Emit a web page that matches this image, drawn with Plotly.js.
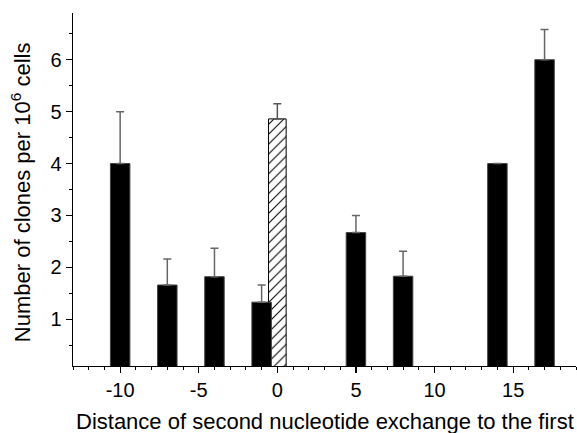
<!DOCTYPE html>
<html>
<head>
<meta charset="utf-8">
<script src="https://cdn.plot.ly/plotly-3.0.1.min.js"></script>
<style>html,body{margin:0;padding:0;background:#fff;}#chart{width:577px;height:433px;}</style>
</head>
<body>
<div id="chart"></div>
<script>
// Black bars: distance of second nucleotide exchange
const blackX = [-10, -7, -4, -1, 5, 8, 14, 17];
const blackY = [4.0, 1.66, 1.82, 1.33, 2.67, 1.83, 4.0, 6.0];
const blackErr = [1.0, 0.5, 0.55, 0.33, 0.33, 0.48, null, 0.58];
const blackErrMinus = [0, 0, 0, 0, 0, 0, null, 0];
// Hatched bar at distance 0
const hatchX = [0];
const hatchY = [4.86];
const hatchErr = [0.29];
const hatchErrMinus = [0];

// Axis tick labels
const xTickVals = [-10, -5, 0, 5, 10, 15];
const xTickText = ['-10', '-5', '0', '5', '10', '15'];
const yTickVals = [1, 2, 3, 4, 5, 6];
const yTickText = ['1', '2', '3', '4', '5', '6'];

const xTitle = 'Distance of second nucleotide exchange to the first';
const yTitle = 'Number of clones per 10<sup>6</sup> cells';

const FONT = 'Arial, "Liberation Sans", sans-serif';

const traces = [
  {
    type: 'bar', x: hatchX, y: hatchY, width: 1.12,
    marker: {
      color: '#ffffff',
      line: {color: '#000', width: 1},
      pattern: {shape: '/', fgcolor: '#000', bgcolor: '#fff', size: 7, solidity: 0.15}
    },
    error_y: {type: 'data', symmetric: false, array: hatchErr, arrayminus: hatchErrMinus,
              color: '#555', thickness: 1.5, width: 4},
    hoverinfo: 'x+y'
  },
  {
    type: 'bar', x: blackX, y: blackY, width: 1.24,
    marker: {color: '#000', line: {color: '#444', width: 1}},
    error_y: {type: 'data', symmetric: false, array: blackErr, arrayminus: blackErrMinus,
              color: '#666', thickness: 1.5, width: 4},
    hoverinfo: 'x+y'
  }
];

const layout = {
  width: 577, height: 433,
  margin: {l: 73, r: 1, t: 13, b: 67},
  paper_bgcolor: '#fff', plot_bgcolor: '#fff',
  showlegend: false,
  barmode: 'overlay',
  font: {family: FONT, color: '#000', size: 20},
  xaxis: {
    range: [-13, 19],
    tickmode: 'array', tickvals: xTickVals, ticktext: xTickText,
    ticks: 'outside', ticklen: 6, tickwidth: 1.2, tickcolor: '#000',
    minor: {tickmode: 'linear', dtick: 1, tick0: 0, ticks: 'outside', ticklen: 3, tickwidth: 1, tickcolor: '#000', showgrid: false},
    showline: true, linecolor: '#000', linewidth: 1.3,
    showgrid: false, zeroline: false,
    tickfont: {family: FONT, size: 20, color: '#000'}
  },
  yaxis: {
    range: [0.1, 6.9],
    tickmode: 'array', tickvals: yTickVals, ticktext: yTickText,
    ticks: 'outside', ticklen: 6, tickwidth: 1.2, tickcolor: '#000',
    minor: {tickmode: 'linear', dtick: 0.5, tick0: 0, ticks: 'outside', ticklen: 3, tickwidth: 1, tickcolor: '#000', showgrid: false},
    showline: true, linecolor: '#000', linewidth: 1.3,
    showgrid: false, zeroline: false,
    tickfont: {family: FONT, size: 20, color: '#000'}
  },
  annotations: [
    {text: xTitle, xref: 'paper', yref: 'paper', x: 0.5, y: -0.157,
     xanchor: 'center', yanchor: 'middle', showarrow: false,
     font: {family: FONT, size: 22, color: '#000'}},
    {text: yTitle, xref: 'paper', yref: 'paper', x: -0.103, y: 0.493,
     xanchor: 'center', yanchor: 'middle', textangle: -90, showarrow: false,
     font: {family: FONT, size: 22, color: '#000'}}
  ]
};

Plotly.newPlot('chart', traces, layout, {displayModeBar: false, staticPlot: true});
</script>
</body>
</html>
